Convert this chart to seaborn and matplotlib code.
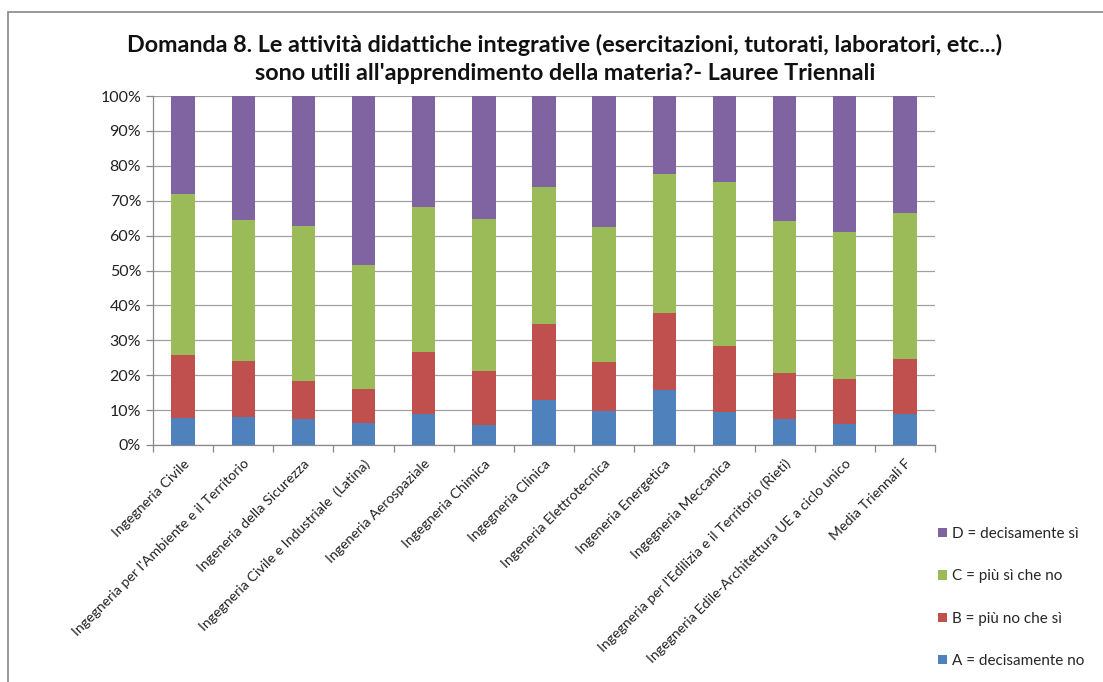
import numpy as np
import pandas as pd
import matplotlib
matplotlib.use("Agg")
import matplotlib.pyplot as plt
from matplotlib.patches import Patch, Rectangle
from matplotlib.ticker import FuncFormatter, FixedLocator
import seaborn as sns

# --- data (percent of answers per course) ---
corsi = [
    "Ingegneria Civile",
    "Ingegneria per l'Ambiente e il Territorio",
    "Ingeneria della Sicurezza",
    "Ingegneria Civile e Industriale  (Latina)",
    "Ingeneria Aerospaziale",
    "Ingegneria Chimica",
    "Ingegneria Clinica",
    "Ingeneria Elettrotecnica",
    "Ingeneria Energetica",
    "Ingegneria Meccanica",
    "Ingegneria per l'Edilizia e il Territorio (Rieti)",
    "Ingegneria Edile-Architettura UE a ciclo unico",
    "Media Triennali F",
]
risp_a = [7.6, 7.9, 7.4, 6.4, 8.8, 5.8, 12.9, 9.6, 15.9, 9.4, 7.4, 5.9, 8.9]
risp_b = [18.2, 16.2, 11.0, 9.7, 17.8, 15.3, 21.9, 14.1, 22.0, 19.1, 13.2, 13.1, 15.8]
risp_c = [46.2, 40.4, 44.4, 35.5, 41.6, 43.7, 39.1, 38.7, 39.7, 47.0, 43.6, 41.9, 41.8]
risp_d = [28.0, 35.5, 37.2, 48.4, 31.8, 35.2, 26.1, 37.6, 22.4, 24.5, 35.8, 39.1, 33.5]

serie = ["A = decisamente no", "B = più no che sì", "C = più sì che no", "D = decisamente sì"]
colori = ["#4F81BD", "#C0504D", "#9BBB59", "#8064A2"]

df = pd.DataFrame({"corso": corsi, serie[0]: risp_a, serie[1]: risp_b,
                   serie[2]: risp_c, serie[3]: risp_d})
vals = df[serie]
df[serie] = vals.div(vals.sum(axis=1), axis=0) * 100
cum = df[serie].cumsum(axis=1)
cum["corso"] = df["corso"]

sns.set_theme(style="white")
plt.rcParams["font.family"] = ["Lato", "DejaVu Sans"]

fig = plt.figure(figsize=(11.03, 6.82), dpi=100)
ax = fig.add_axes([153 / 1103, 1 - 445 / 682, (935 - 153) / 1103, (445 - 96) / 682])

# stacked bars: draw cumulative tops from the top segment down
for s, c in reversed(list(zip(serie, colori))):
    sns.barplot(data=cum, x="corso", y=s, color=c, width=0.39,
                saturation=1, linewidth=0, edgecolor="none", ax=ax, zorder=3)

ax.set_ylim(0, 100)
ax.set_xlim(-0.5, len(corsi) - 0.5)
ax.set_yticks(np.arange(0, 101, 10))
ax.yaxis.set_major_formatter(FuncFormatter(lambda v, p: f"{v:.0f}%"))
ax.yaxis.grid(True, color="#A0A0A0", linewidth=0.9, zorder=0)
ax.set_axisbelow(True)
ax.set_xlabel("")
ax.set_ylabel("")

ax.set_xticks(range(len(corsi)))
ax.set_xticklabels(corsi, rotation=45, ha="right", rotation_mode="anchor",
                   fontsize=10.2, color="#222222")
ax.xaxis.set_minor_locator(FixedLocator(np.arange(-0.5, len(corsi), 1)))
ax.tick_params(axis="x", which="major", length=0, pad=9)
ax.tick_params(axis="x", which="minor", length=5, color="#888888", width=0.9, bottom=True)
ax.tick_params(axis="y", length=5, color="#888888", width=0.9, left=True,
               labelsize=11.5, labelcolor="#222222")

for side in ["top", "right"]:
    ax.spines[side].set_visible(False)
for side in ["left", "bottom"]:
    ax.spines[side].set_color("#888888")
    ax.spines[side].set_linewidth(0.9)

handles = [Patch(facecolor=c, edgecolor="none") for c in reversed(colori)]
fig.legend(handles, list(reversed(serie)), loc="upper left",
           bbox_to_anchor=(932 / 1103, 1 - 521 / 682), frameon=False,
           fontsize=11, handlelength=0.55, handleheight=0.55,
           handletextpad=0.35, labelspacing=1.85, borderaxespad=0)

fig.text(565 / 1103, 1 - 45 / 682,
         "Domanda 8. Le attività didattiche integrative (esercitazioni, tutorati, laboratori, etc...)",
         ha="center", va="center", fontsize=16.8, fontweight="bold", color="#111111")
fig.text(565 / 1103, 1 - 73 / 682,
         "sono utili all'apprendimento della materia?- Lauree Triennali",
         ha="center", va="center", fontsize=16.8, fontweight="bold", color="#111111")

# outer chart-area frame
fig.patches.append(Rectangle((8 / 1103, -0.1), 1.2, 1 - 12 / 682 + 0.1,
                             transform=fig.transFigure, fill=False,
                             edgecolor="#888888", linewidth=1.2))

fig.savefig("out.png", dpi=100)
